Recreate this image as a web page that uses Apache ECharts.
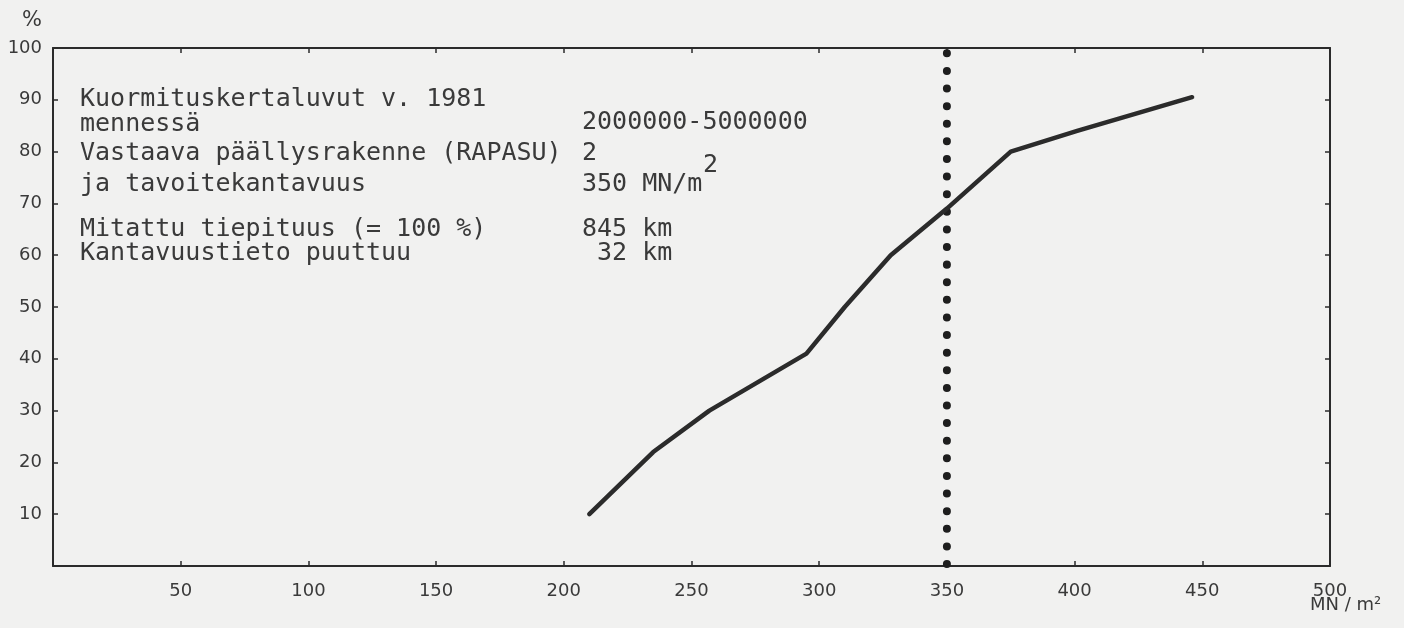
<!DOCTYPE html>
<html>
<head>
<meta charset="utf-8">
<script src="https://cdn.jsdelivr.net/npm/echarts@6/dist/echarts.min.js"></script>
<style>
html,body{margin:0;padding:0;background:#f1f1f0;}
#c{width:1404px;height:628px;}
</style>
</head>
<body>
<div id="c"></div>
<script>
// ---- data ----
const curveX = [210, 235, 257, 295, 310, 328, 350, 375, 401, 446];
const curveY = [10, 22, 30, 41, 50, 60, 69, 80, 84, 90.5];
const targetX = [350, 350];
const targetY = [0, 100];
const xTickValues = [50, 100, 150, 200, 250, 300, 350, 400, 450, 500];
const xTickLabels = ['50', '100', '150', '200', '250', '300', '350', '400', '450', '500'];
const yTickValues = [10, 20, 30, 40, 50, 60, 70, 80, 90, 100];
const yTickLabels = ['10', '20', '30', '40', '50', '60', '70', '80', '90', '100'];
const infoLeft = ['Kuormituskertaluvut v. 1981', 'mennessä', 'Vastaava päällysrakenne (RAPASU)', 'ja tavoitekantavuus', 'Mitattu tiepituus (= 100 %)', 'Kantavuustieto puuttuu'];
const infoRight = ['2000000-5000000', '2', '350 MN/m', '845 km', ' 32 km'];
const yUnit = '%';
const xUnit = 'MN / m²';

const ink = '#2b2b2b';
const labelColor = '#3a3a3a';
const axisFont = 'DejaVu Sans';
const monoFont = 'DejaVu Sans Mono';

function zip(a, b) { return a.map((v, i) => [v, b[i]]); }
function lookup(vals, labels) {
  return function (v) { const i = vals.indexOf(v); return i >= 0 ? labels[i] : ''; };
}

const chart = echarts.init(document.getElementById('c'), null, {renderer: 'canvas'});

const leftY = [102, 127, 156, 187, 232, 256];
const rightY = [125, 156, 187, 232, 256];
const graphics = [];
infoLeft.forEach((t, i) => graphics.push({type: 'text', left: 80, top: leftY[i] - 15, style: {text: t, font: '25px ' + monoFont, fill: labelColor}}));
infoRight.forEach((t, i) => graphics.push({type: 'text', left: 582, top: rightY[i] - 15, style: {text: t, font: '25px ' + monoFont, fill: labelColor}}));
graphics.push({type: 'text', left: 703, top: 153, style: {text: '2', font: '25px ' + monoFont, fill: labelColor}});
graphics.push({type: 'text', left: 22, top: 10, style: {text: yUnit, font: '21px ' + axisFont, fill: labelColor}});
graphics.push({type: 'text', left: 1310, top: 596, style: {text: xUnit, font: '18px ' + axisFont, fill: labelColor}});

const tickStyle = {show: true, inside: true, length: 5, lineStyle: {color: ink, width: 1.5}};
const lineStyleAxis = {show: true, onZero: false, lineStyle: {color: ink, width: 2}};

chart.setOption({
  backgroundColor: '#f1f1f0',
  animation: false,
  grid: {left: 53, right: 74, top: 48, bottom: 62, containLabel: false},
  xAxis: [
    {type: 'value', min: 0, max: 500, interval: 50, position: 'bottom',
     axisLine: lineStyleAxis, axisTick: tickStyle, splitLine: {show: false},
     axisLabel: {margin: 16, color: labelColor, fontFamily: axisFont, fontSize: 18,
       formatter: lookup(xTickValues, xTickLabels)}},
    {type: 'value', min: 0, max: 500, interval: 50, position: 'top',
     axisLine: lineStyleAxis, axisTick: tickStyle, splitLine: {show: false}, axisLabel: {show: false}}
  ],
  yAxis: [
    {type: 'value', min: 0, max: 100, interval: 10, position: 'left',
     axisLine: lineStyleAxis, axisTick: tickStyle, splitLine: {show: false},
     axisLabel: {margin: 11, color: labelColor, fontFamily: axisFont, fontSize: 18,
       formatter: lookup(yTickValues, yTickLabels)}},
    {type: 'value', min: 0, max: 100, interval: 10, position: 'right',
     axisLine: lineStyleAxis, axisTick: tickStyle, splitLine: {show: false}, axisLabel: {show: false}}
  ],
  series: [
    {type: 'line', xAxisIndex: 0, yAxisIndex: 0, data: zip(targetX, targetY), symbol: 'none',
     lineStyle: {color: '#1e1e1e', width: 8, type: [0.01, 17.6], cap: 'round', dashOffset: -2}, z: 3},
    {type: 'line', xAxisIndex: 0, yAxisIndex: 0, data: zip(curveX, curveY), symbol: 'none',
     lineStyle: {color: ink, width: 4.5, cap: 'round', join: 'round'}, z: 4}
  ],
  graphic: graphics
});
</script>
</body>
</html>
